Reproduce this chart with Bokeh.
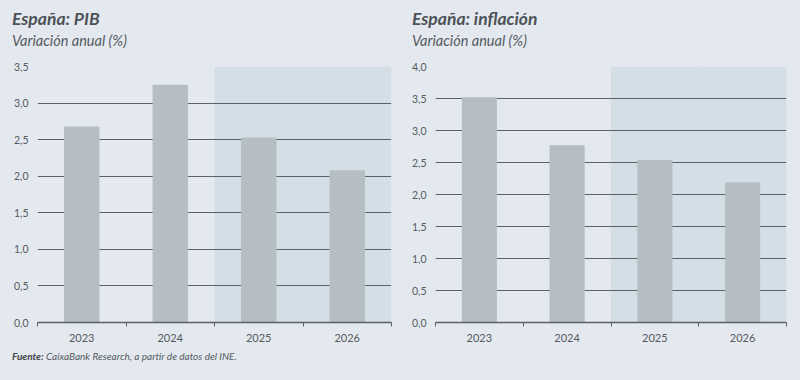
from bokeh.plotting import figure
from bokeh.layouts import row, column
from bokeh.models import Range1d, FixedTicker, Div
from bokeh.embed import file_html
from bokeh.resources import INLINE

# ---- data ----
years = ["2023", "2024", "2025", "2026"]
forecast_years = ["2025", "2026"]
pib = [2.68, 3.25, 2.53, 2.08]
inflacion = [3.52, 2.77, 2.54, 2.19]
pib_ticks = [0.0, 0.5, 1.0, 1.5, 2.0, 2.5, 3.0, 3.5]
infl_ticks = [0.0, 0.5, 1.0, 1.5, 2.0, 2.5, 3.0, 3.5, 4.0]
title_pib = "España: PIB"
title_infl = "España: inflación"
subtitle = "Variación anual (%)"
source_bold = "Fuente:"
source_text = "CaixaBank Research, a partir de datos del INE."

BG = "#e4e9ef"
SHADE = "#d3dee6"
BAR = "#b4bec3"
GRID = "#5b6166"
TXT = "#555a5f"
TITLE_TXT = "#4d5257"
FONT = "Lato"


def make_chart(values, ticks, mb_left, mb_right, mb_top, mb_bottom):
    n = len(years)
    xs = [i + 0.5 for i in range(n)]
    p = figure(width=400, height=290, output_backend="svg", toolbar_location=None,
               x_range=Range1d(0, n), y_range=Range1d(ticks[0], ticks[-1]),
               min_border_left=mb_left, min_border_right=mb_right,
               min_border_top=mb_top, min_border_bottom=mb_bottom)
    p.background_fill_color = BG
    p.border_fill_color = BG
    p.outline_line_color = None

    # forecast shading
    fx = [xs[years.index(y)] for y in forecast_years]
    p.vbar(x=fx, top=[ticks[-1]] * len(fx), bottom=ticks[0], width=1.0,
           fill_color=SHADE, line_color=None, level="image")
    # bars
    p.vbar(x=xs, top=values, width=0.4, fill_color=BAR, line_color=None)

    # y axis
    yax = p.yaxis[0]
    yax.ticker = FixedTicker(ticks=ticks, minor_ticks=[])
    yax.major_label_overrides = {t: f"{t:.1f}".replace(".", ",") for t in ticks}
    yax.axis_line_color = None
    yax.major_tick_line_color = None
    yax.minor_tick_line_color = None
    yax.major_label_text_font = FONT
    yax.major_label_text_font_size = "10.5px"
    yax.major_label_text_color = TXT
    yax.major_label_standoff = 3

    # x axis
    xax = p.xaxis[0]
    xax.ticker = FixedTicker(ticks=xs, minor_ticks=list(range(n + 1)))
    xax.major_label_overrides = {x: y for x, y in zip(xs, years)}
    xax.axis_line_color = GRID
    xax.axis_line_width = 1.3
    xax.major_tick_line_color = None
    xax.minor_tick_line_color = GRID
    xax.minor_tick_out = 4
    xax.minor_tick_in = 0
    xax.major_label_text_font = FONT
    xax.major_label_text_font_size = "11px"
    xax.major_label_text_color = TXT
    xax.major_label_standoff = 5

    # grid
    p.xgrid.grid_line_color = None
    p.ygrid.ticker = FixedTicker(ticks=ticks[1:], minor_ticks=[])
    p.ygrid.grid_line_color = GRID
    p.ygrid.grid_line_width = 1.1
    return p


p1 = make_chart(pib, pib_ticks, 37, 9, 10, 23)
p2 = make_chart(inflacion, infl_ticks, 35, 14, 9, 24)


def abs_text(txt, left, top, size, style, color, weight="normal"):
    return (f'<div style="position:absolute;left:{left}px;top:{top}px;white-space:nowrap;'
            f'font-family:{FONT};font-size:{size}px;line-height:{size * 1.2:.1f}px;'
            f'font-style:{style};font-weight:{weight};color:{color};">{txt}</div>')


header_html = (
    abs_text(title_pib, 12, 8, 17.5, "italic", TITLE_TXT, "bold")
    + abs_text(subtitle, 12, 32, 14.5, "italic", TXT)
    + abs_text(title_infl, 412, 8, 17.5, "italic", TITLE_TXT, "bold")
    + abs_text(subtitle, 412, 32, 14.5, "italic", TXT)
)
header = Div(text=header_html, width=800, height=56, margin=0,
             styles={"background-color": BG, "overflow": "hidden"})

foot_html = abs_text(f'<b style="color:#3f4449">{source_bold}</b> {source_text}',
                     12, 4, 10, "italic", TXT)
foot = Div(text=foot_html, width=800, height=34, margin=0,
           styles={"background-color": BG, "overflow": "hidden"})

layout = column(header, row(p1, p2, spacing=0, styles={"background-color": BG}), foot,
                spacing=0, styles={"background-color": BG})
open("out.html", "w").write(file_html(layout, INLINE))
